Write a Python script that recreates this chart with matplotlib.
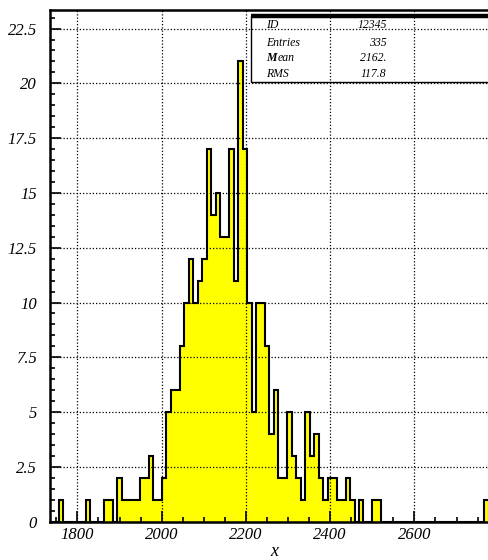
import matplotlib
matplotlib.use("Agg")
import matplotlib.pyplot as plt
from matplotlib.ticker import MultipleLocator, FormatStrFormatter
import numpy as np

# histogram of x, 100 bins
x_lo, x_hi = 1735.0, 2798.0
counts = [0, 0, 1, 0, 0, 0, 0, 0, 1, 0,
          0, 0, 1, 1, 0, 2, 1, 1, 1, 1,
          2, 2, 3, 1, 1, 2, 5, 6, 6, 8,
          10, 12, 10, 11, 12, 17, 14, 15, 13, 13,
          17, 11, 21, 17, 10, 5, 10, 10, 8, 4,
          6, 2, 2, 5, 3, 2, 1, 5, 3, 4,
          2, 1, 2, 2, 1, 1, 2, 1, 0, 1,
          0, 0, 1, 1, 0, 0, 0, 0, 0, 0,
          0, 0, 0, 0, 0, 0, 0, 0, 0, 0,
          0, 0, 0, 0, 0, 0, 0, 1, 0, 0]
y_top = 23.37

stat_names = ["ID", "Entries", "Mean", "RMS"]
stat_values = ["12345", "335", "2162.", "117.8"]

edges = np.linspace(x_lo, x_hi, len(counts) + 1)

serif = ["Liberation Serif", "DejaVu Serif"]

fig = plt.figure(figsize=(4.89, 5.6), dpi=100)
ax = fig.add_axes([50 / 489, 38.3 / 560, 447.8 / 489, 512.2 / 560])

ax.stairs(counts, edges, fill=True, facecolor="#ffff00", edgecolor="none", zorder=1)
ax.stairs(counts, edges, color="black", linewidth=1.5, zorder=1.2)

ax.set_xlim(x_lo, x_hi)
ax.set_ylim(0, y_top)

ax.xaxis.set_major_locator(MultipleLocator(200))
ax.xaxis.set_minor_locator(MultipleLocator(50))
ax.yaxis.set_major_locator(MultipleLocator(2.5))
ax.yaxis.set_minor_locator(MultipleLocator(0.5))
ax.yaxis.set_major_formatter(FormatStrFormatter("%g"))

ax.tick_params(which="both", direction="in", width=1.2, colors="black")
ax.tick_params(which="major", length=8)
ax.tick_params(which="minor", length=3.5)
ax.tick_params(axis="x", which="major", pad=4)
ax.tick_params(axis="y", which="major", pad=9.5)
ax.tick_params(top=False, right=False)

for lab in ax.get_xticklabels() + ax.get_yticklabels():
    lab.set_family(serif)
    lab.set_style("italic")
    lab.set_fontsize(12)

ax.set_axisbelow(False)
ax.grid(True, which="major", color="black", linestyle=(0, (1, 1.6)), linewidth=0.9)

for s in ax.spines.values():
    s.set_linewidth(1.8)

ax.set_xlabel("x", family=serif, style="italic", fontsize=13, labelpad=0)

# stats box
bx0, by0, by1 = 0.4482, 0.859, 0.987
ax.plot([bx0, bx0, 1.0], [by1, by0, by0], transform=ax.transAxes,
        color="black", linewidth=1.0, clip_on=False, zorder=5)
ax.plot([bx0, 1.0], [by1, by1], transform=ax.transAxes,
        color="black", linewidth=3.2, clip_on=False, zorder=5, solid_capstyle="butt")

row_y = [0.9697, 0.9352, 0.9047, 0.8741]
for name, val, yy in zip(stat_names, stat_values, row_y):
    if name == "Mean":
        t = ax.text(0.4824, yy, "M", transform=ax.transAxes, family=serif,
                    style="italic", weight="bold", fontsize=8.5, va="center", ha="left")
        ax.annotate("ean", xy=(1, 0.5), xycoords=t, xytext=(0.6, 0),
                    textcoords="offset points", family=serif, style="italic",
                    fontsize=8.5, va="center", ha="left")
    else:
        ax.text(0.4824, yy, name, transform=ax.transAxes, family=serif,
                style="italic", fontsize=8.5, va="center", ha="left")
    ax.text(0.7515, yy, val, transform=ax.transAxes, family=serif,
            style="italic", fontsize=8.5, va="center", ha="right")

fig.savefig("out.png", dpi=100)
